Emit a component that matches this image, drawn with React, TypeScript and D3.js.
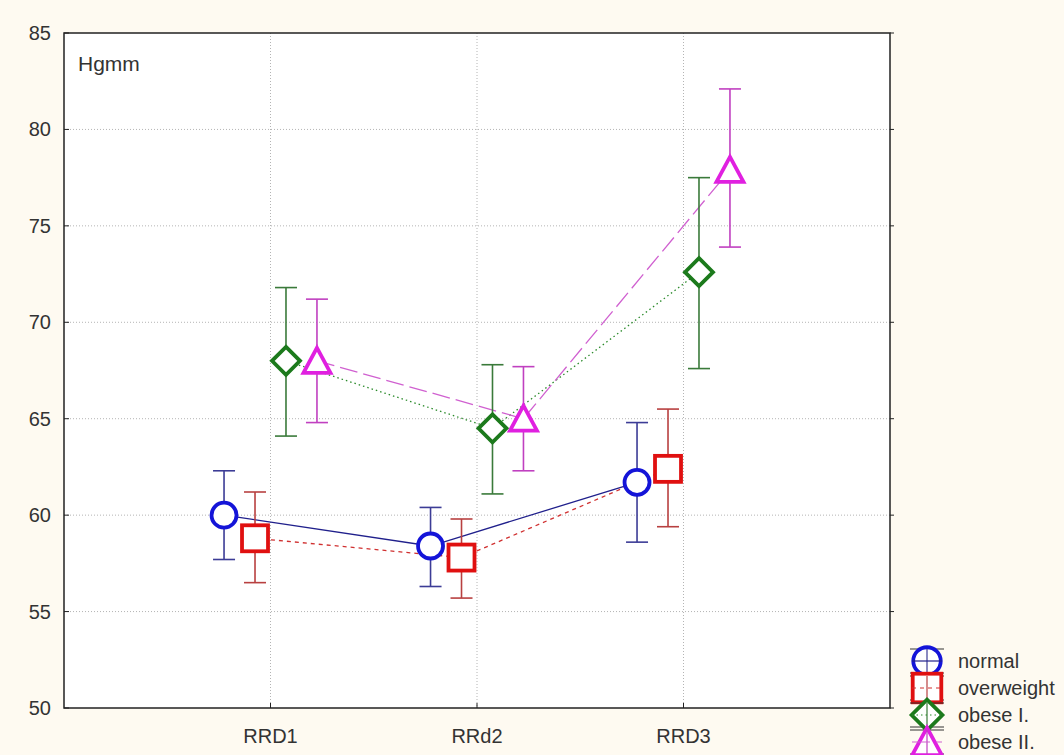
import React from 'react'
import * as d3 from 'd3'

const categories = ['RRD1', 'RRd2', 'RRD3']
const seriesNames = ['normal', 'overweight', 'obese I.', 'obese II.']
const yTicks = [50, 55, 60, 65, 70, 75, 80, 85]

const normalMean = [60.0, 58.4, 61.7]
const normalLow = [57.7, 56.3, 58.6]
const normalHigh = [62.3, 60.4, 64.8]

const overweightMean = [58.8, 57.8, 62.4]
const overweightLow = [56.5, 55.7, 59.4]
const overweightHigh = [61.2, 59.8, 65.5]

const obese1Mean = [68.0, 64.5, 72.6]
const obese1Low = [64.1, 61.1, 67.6]
const obese1High = [71.8, 67.8, 77.5]

const obese2Mean = [68.0, 65.0, 77.9]
const obese2Low = [64.8, 62.3, 73.9]
const obese2High = [71.2, 67.7, 82.1]

const W = 1064
const H = 755
const left = 64, right = 890, top = 33, bottom = 708
const font = '"Liberation Sans", Arial, sans-serif'

const styles = [
  { marker: 'circle', color: '#1414d8', err: '#3c3c96', line: '#20208c', dash: 'none', off: -0.225 },
  { marker: 'square', color: '#e01010', err: '#b84040', line: '#d03030', dash: '4,4', off: -0.075 },
  { marker: 'diamond', color: '#1c7a1c', err: '#3a7a3a', line: '#2a8a2a', dash: '1.5,3', off: 0.075 },
  { marker: 'triangle', color: '#e020e0', err: '#c040c0', line: '#d060d0', dash: '18,6', off: 0.225 },
]

function Marker({ kind, x, y, color, s = 1 }: { kind: string; x: number; y: number; color: string; s?: number }) {
  const sw = 3.8
  if (kind === 'circle') return <circle cx={x} cy={y} r={12.5 * s} fill="white" stroke={color} strokeWidth={sw} />
  if (kind === 'square') return <rect x={x - 13 * s} y={y - 13 * s} width={26 * s} height={26 * s} fill="white" stroke={color} strokeWidth={sw} />
  if (kind === 'diamond') return <path d={`M${x},${y - 14 * s}L${x + 14 * s},${y}L${x},${y + 14 * s}L${x - 14 * s},${y}Z`} fill="white" stroke={color} strokeWidth={sw} />
  return <path d={`M${x},${y - 13 * s}L${x + 13.5 * s},${y + 12 * s}L${x - 13.5 * s},${y + 12 * s}Z`} fill="white" stroke={color} strokeWidth={sw} />
}

export default function App() {
  const x = d3.scaleLinear().domain([0, 4]).range([left, right])
  const y = d3.scaleLinear().domain([50, 85]).range([bottom, top])

  const data = [
    { mean: normalMean, low: normalLow, high: normalHigh },
    { mean: overweightMean, low: overweightLow, high: overweightHigh },
    { mean: obese1Mean, low: obese1Low, high: obese1High },
    { mean: obese2Mean, low: obese2Low, high: obese2High },
  ]

  return (
    <div style={{ position: 'absolute', left: 0, top: 0 }}>
      <svg width={W} height={H} style={{ display: 'block', fontFamily: font }}>
        <rect width={W} height={H} fill="#fefaf1" />
        <rect x={left} y={top} width={right - left} height={bottom - top} fill="white" />

        {/* grid */}
        {yTicks.slice(1, -1).map(t => (
          <line key={'gy' + t} x1={left} x2={right} y1={y(t)} y2={y(t)} stroke="#b4b4b4" strokeDasharray="1,2" />
        ))}
        {categories.map((c, i) => (
          <line key={'gx' + c} x1={x(i + 1)} x2={x(i + 1)} y1={top} y2={bottom} stroke="#b4b4b4" strokeDasharray="1,2" />
        ))}

        {/* lines */}
        {data.map((s, si) => {
          const st = styles[si]
          const line = d3.line<number>().x((_, i) => x(i + 1 + st.off)).y(d => y(d))
          return <path key={'l' + si} d={line(s.mean) || ''} fill="none" stroke={st.line} strokeWidth={1.3} strokeDasharray={st.dash} />
        })}

        {/* error bars */}
        {data.map((s, si) => {
          const st = styles[si]
          return s.mean.map((_, i) => {
            const cx = x(i + 1 + st.off)
            return (
              <g key={'e' + si + i} stroke={st.err} strokeWidth={1.6}>
                <line x1={cx} x2={cx} y1={y(s.low[i])} y2={y(s.high[i])} />
                <line x1={cx - 11} x2={cx + 11} y1={y(s.low[i])} y2={y(s.low[i])} />
                <line x1={cx - 11} x2={cx + 11} y1={y(s.high[i])} y2={y(s.high[i])} />
              </g>
            )
          })
        })}

        {/* markers */}
        {data.map((s, si) => {
          const st = styles[si]
          return s.mean.map((v, i) => (
            <Marker key={'m' + si + i} kind={st.marker} x={x(i + 1 + st.off)} y={y(v)} color={st.color} />
          ))
        })}

        {/* frame and ticks */}
        <rect x={left} y={top} width={right - left} height={bottom - top} fill="none" stroke="#222" strokeWidth={1.5} />
        {yTicks.map(t => (
          <g key={'ty' + t}>
            <line x1={left} x2={left + 5} y1={y(t)} y2={y(t)} stroke="#222" />
            <line x1={right} x2={right + 4} y1={y(t)} y2={y(t)} stroke="#222" />
            <text x={left - 13} y={y(t) + 7} textAnchor="end" fontSize={20} fill="#333">{t}</text>
          </g>
        ))}
        {categories.map((c, i) => (
          <g key={'tx' + c}>
            <line x1={x(i + 1)} x2={x(i + 1)} y1={bottom} y2={bottom - 5} stroke="#222" />
            <text x={x(i + 1)} y={bottom + 35} textAnchor="middle" fontSize={20} fill="#333">{c}</text>
          </g>
        ))}

        <text x={78} y={71} fontSize={21} fill="#333">Hgmm</text>

        {/* legend */}
        {seriesNames.map((n, i) => {
          const st = styles[i]
          const ly = 661 + i * 27
          return (
            <g key={'lg' + n}>
              <line x1={910} x2={944} y1={ly - 12} y2={ly - 12} stroke="#333" strokeWidth={1} />
              <line x1={910} x2={944} y1={ly + 12} y2={ly + 12} stroke="#333" strokeWidth={1} />
              <Marker kind={st.marker} x={927} y={ly} color={st.color} s={1.1} />
              <line x1={927} x2={927} y1={ly - 12} y2={ly + 12} stroke={st.err} strokeWidth={1.2} />
              <line x1={912} x2={942} y1={ly} y2={ly} stroke={st.line} strokeWidth={1.2} strokeDasharray={st.dash} />
              <text x={958} y={ly + 7} fontSize={20} fill="#333">{n}</text>
            </g>
          )
        })}
      </svg>
    </div>
  )
}
